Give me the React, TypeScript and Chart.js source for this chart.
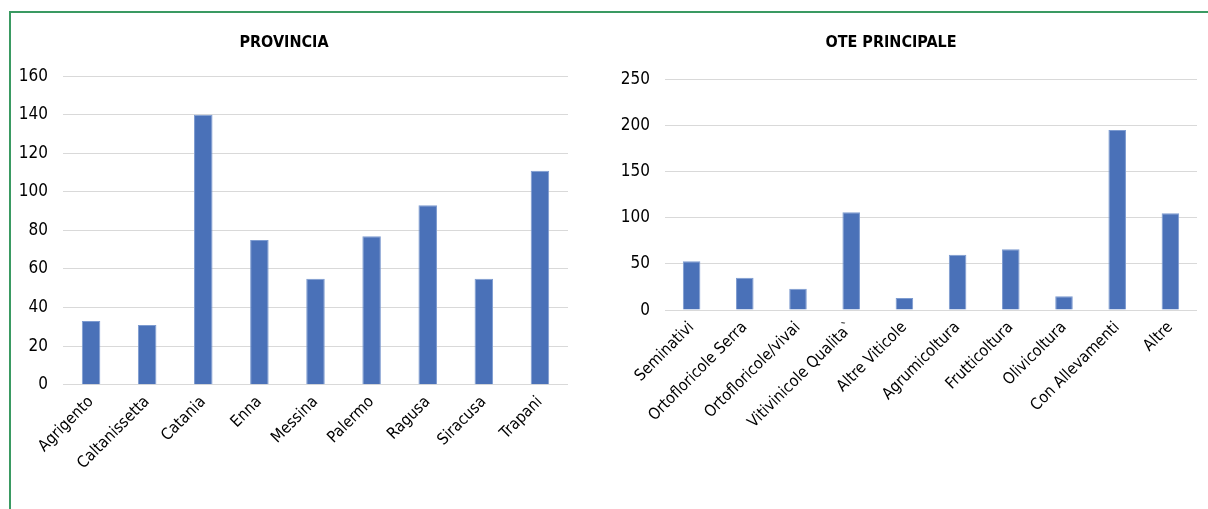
import React, { useEffect, useRef } from "react";
import { Chart, registerables } from "chart.js";

Chart.register(...registerables);

const provinceLabels = ["Agrigento", "Caltanissetta", "Catania", "Enna", "Messina", "Palermo", "Ragusa", "Siracusa", "Trapani"];
const provinceValues = [33, 31, 140, 75, 55, 77, 93, 55, 111];

const oteLabels = ["Seminativi", "Ortofloricole Serra", "Ortofloricole/vivai", "Vitivinicole Qualita`", "Altre Viticole", "Agrumicoltura", "Frutticoltura", "Olivicoltura", "Con Allevamenti", "Altre"];
const oteValues = [53, 35, 23, 106, 13, 60, 66, 15, 195, 105];

const FONT = "'Liberation Sans Narrow', 'DejaVu Sans Condensed', 'Arial Narrow', sans-serif";
const BAR = "#4a71b8";
const BAR_EDGE = "#7d9bd0";
const GRID = "#d9d9d9";

function makeConfig(opts: {
  labels: string[];
  values: number[];
  title: string;
  max: number;
  step: number;
  yWidth: number;
  padR: number;
  padB: number;
  titleBottom: number;
  barPct: number;
}): any {
  return {
    type: "bar",
    data: {
      labels: opts.labels,
      datasets: [
        {
          data: opts.values,
          backgroundColor: BAR,
          borderColor: BAR_EDGE,
          borderWidth: 1,
          barPercentage: opts.barPct,
          categoryPercentage: 1,
        },
      ],
    },
    options: {
      responsive: false,
      animation: false,
      layout: { padding: { left: 0, right: opts.padR, top: 14, bottom: opts.padB } },
      plugins: {
        legend: { display: false },
        tooltip: { enabled: false },
        title: {
          display: true,
          text: opts.title,
          color: "#000",
          font: { family: FONT, size: 16, weight: "bold" },
          padding: { top: 19, bottom: opts.titleBottom },
        },
      },
      scales: {
        x: {
          grid: { display: false, drawTicks: false },
          border: { display: false },
          ticks: {
            color: "#000",
            font: { family: FONT, size: 16 },
            maxRotation: 45,
            minRotation: 45,
            padding: 8,
            autoSkip: false,
          },
        },
        y: {
          min: 0,
          max: opts.max,
          afterFit: (scale: any) => {
            scale.width = opts.yWidth;
          },
          grid: { color: GRID, lineWidth: 1, drawTicks: false },
          border: { display: false },
          ticks: {
            stepSize: opts.step,
            color: "#000",
            font: { family: FONT, size: 17 },
            padding: 15,
          },
        },
      },
    },
  };
}

function BarChart(props: { cfg: any; width: number; height: number; left: number }) {
  const ref = useRef<HTMLCanvasElement | null>(null);
  useEffect(() => {
    if (!ref.current) return;
    const chart = new Chart(ref.current, props.cfg);
    return () => chart.destroy();
  }, []);
  return (
    <canvas
      ref={ref}
      width={props.width}
      height={props.height}
      style={{ position: "absolute", left: props.left, top: 0, width: props.width, height: props.height }}
    />
  );
}

export default function App() {
  const leftCfg = makeConfig({
    labels: provinceLabels,
    values: provinceValues,
    title: "PROVINCIA",
    max: 160,
    step: 20,
    yWidth: 63,
    padR: 12,
    padB: 19,
    titleBottom: 24,
    barPct: 0.33,
  });
  const rightCfg = makeConfig({
    labels: oteLabels,
    values: oteValues,
    title: "OTE PRINCIPALE",
    max: 250,
    step: 50,
    yWidth: 80,
    padR: 11,
    padB: 60,
    titleBottom: 27,
    barPct: 0.33,
  });
  return (
    <div style={{ position: "fixed", left: 0, top: 0, width: 1208, height: 509, background: "#fff", overflow: "hidden" }}>
      <div style={{ position: "absolute", left: 9, top: 11, width: 1199, height: 2, background: "#3a9a62" }} />
      <div style={{ position: "absolute", left: 9, top: 11, width: 2, height: 498, background: "#3a9a62" }} />
      <BarChart cfg={leftCfg} width={580} height={500} left={0} />
      <BarChart cfg={rightCfg} width={623} height={500} left={585} />
    </div>
  );
}
